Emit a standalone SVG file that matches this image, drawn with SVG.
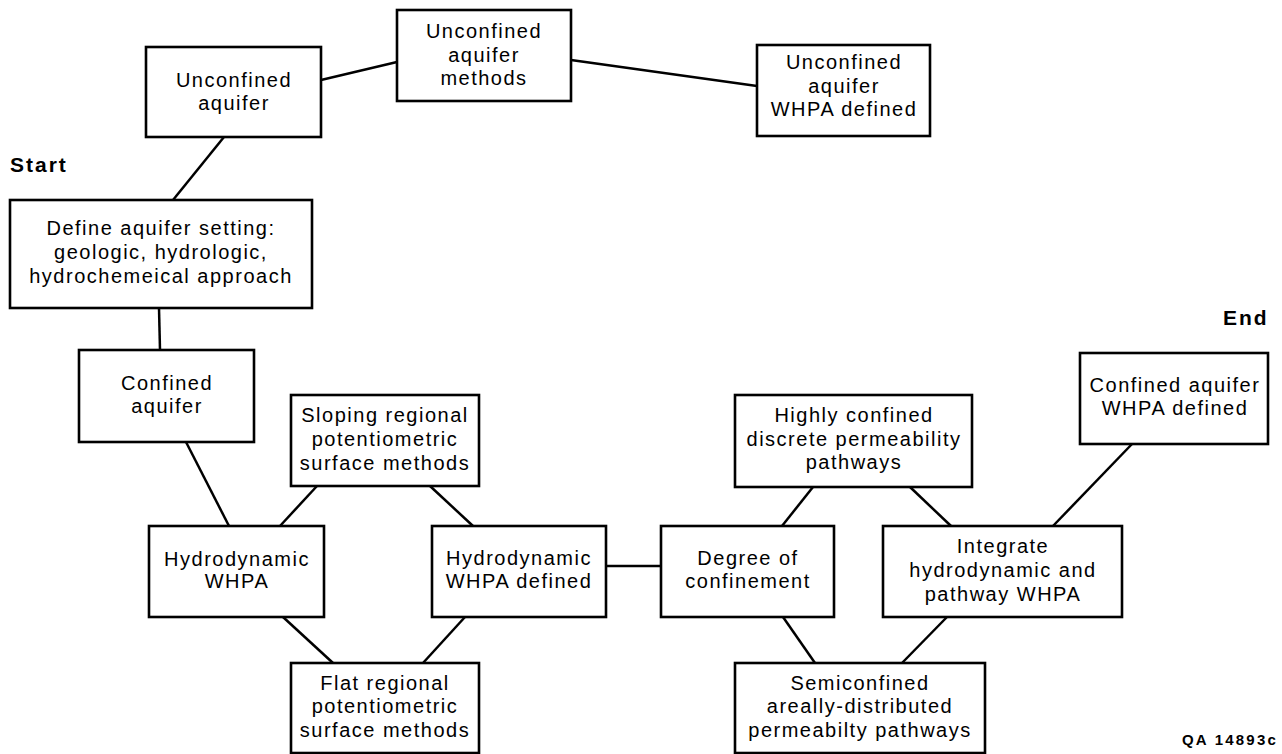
<svg xmlns="http://www.w3.org/2000/svg" width="1282" height="754" viewBox="0 0 1282 754">
<style>
.box{fill:#fff;stroke:#000;stroke-width:2.6}
.t{font-family:"Liberation Sans",Arial,sans-serif;font-size:20px;letter-spacing:1.5px;fill:#000;text-anchor:middle}
.b{font-family:"Liberation Sans",Arial,sans-serif;font-weight:bold;fill:#000}
#connectors line{stroke:#000;stroke-width:2.5;fill:none}
</style>
<rect width="1282" height="754" fill="#fff"/>
<g id="connectors">
<line x1="224" y1="137" x2="173" y2="200"/>
<line x1="321" y1="80" x2="397" y2="62"/>
<line x1="571" y1="60" x2="757" y2="86"/>
<line x1="159" y1="308" x2="160" y2="350"/>
<line x1="186" y1="442" x2="229" y2="526"/>
<line x1="317" y1="486" x2="280" y2="526"/>
<line x1="430" y1="486" x2="473" y2="526"/>
<line x1="283" y1="617" x2="333" y2="663"/>
<line x1="465" y1="617" x2="423" y2="663"/>
<line x1="606" y1="566" x2="661" y2="566"/>
<line x1="782" y1="526" x2="813" y2="487"/>
<line x1="783" y1="617" x2="815" y2="663"/>
<line x1="910" y1="487" x2="951" y2="526"/>
<line x1="1053" y1="526" x2="1132" y2="444"/>
<line x1="947" y1="617" x2="902" y2="663"/>
</g>
<g id="start"><text class="b" x="10" y="172" font-size="21" letter-spacing="2">Start</text></g>
<g id="end"><text class="b" x="1223" y="325" font-size="21" letter-spacing="2">End</text></g>
<g id="code"><text class="b" x="1182" y="745" font-size="15" letter-spacing="2.2">QA 14893c</text></g>
<g id="unconfined-aquifer">
<rect class="box" x="146" y="47" width="175" height="90"/>
<text class="t" x="234" y="87">Unconfined</text>
<text class="t" x="234" y="110">aquifer</text>
</g>
<g id="unconfined-methods">
<rect class="box" x="397" y="10" width="174" height="91"/>
<text class="t" x="484" y="38">Unconfined</text>
<text class="t" x="484" y="62">aquifer</text>
<text class="t" x="484" y="85">methods</text>
</g>
<g id="unconfined-whpa">
<rect class="box" x="757" y="45" width="173" height="91"/>
<text class="t" x="844" y="69">Unconfined</text>
<text class="t" x="844" y="93">aquifer</text>
<text class="t" x="844" y="116">WHPA defined</text>
</g>
<g id="define-setting">
<rect class="box" x="10" y="200" width="302" height="108"/>
<text class="t" x="161" y="235">Define aquifer setting:</text>
<text class="t" x="161" y="259">geologic, hydrologic,</text>
<text class="t" x="161" y="283">hydrochemeical approach</text>
</g>
<g id="confined-aquifer">
<rect class="box" x="79" y="350" width="175" height="92"/>
<text class="t" x="167" y="390">Confined</text>
<text class="t" x="167" y="413">aquifer</text>
</g>
<g id="sloping">
<rect class="box" x="291" y="395" width="188" height="91"/>
<text class="t" x="385" y="422">Sloping regional</text>
<text class="t" x="385" y="446">potentiometric</text>
<text class="t" x="385" y="470">surface methods</text>
</g>
<g id="hydro-whpa">
<rect class="box" x="149" y="526" width="175" height="91"/>
<text class="t" x="237" y="566">Hydrodynamic</text>
<text class="t" x="237" y="588">WHPA</text>
</g>
<g id="hydro-defined">
<rect class="box" x="432" y="526" width="174" height="91"/>
<text class="t" x="519" y="565">Hydrodynamic</text>
<text class="t" x="519" y="588">WHPA defined</text>
</g>
<g id="flat">
<rect class="box" x="291" y="663" width="188" height="90"/>
<text class="t" x="385" y="690">Flat regional</text>
<text class="t" x="385" y="713">potentiometric</text>
<text class="t" x="385" y="737">surface methods</text>
</g>
<g id="degree">
<rect class="box" x="661" y="526" width="173" height="91"/>
<text class="t" x="748" y="565">Degree of</text>
<text class="t" x="748" y="588">confinement</text>
</g>
<g id="highly">
<rect class="box" x="735" y="395" width="237" height="92"/>
<text class="t" x="854" y="422">Highly confined</text>
<text class="t" x="854" y="446">discrete permeability</text>
<text class="t" x="854" y="469">pathways</text>
</g>
<g id="semiconfined">
<rect class="box" x="735" y="663" width="250" height="90"/>
<text class="t" x="860" y="690">Semiconfined</text>
<text class="t" x="860" y="713">areally-distributed</text>
<text class="t" x="860" y="737">permeabilty pathways</text>
</g>
<g id="integrate">
<rect class="box" x="883" y="526" width="239" height="91"/>
<text class="t" x="1003" y="553">Integrate</text>
<text class="t" x="1003" y="577">hydrodynamic and</text>
<text class="t" x="1003" y="601">pathway WHPA</text>
</g>
<g id="confined-whpa">
<rect class="box" x="1080" y="353" width="188" height="91"/>
<text class="t" x="1175" y="392">Confined aquifer</text>
<text class="t" x="1175" y="415">WHPA defined</text>
</g>
</svg>
